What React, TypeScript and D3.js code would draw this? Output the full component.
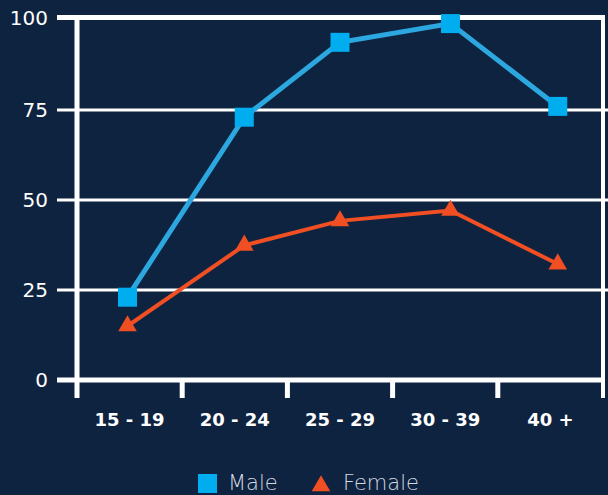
import React from 'react';
import * as d3 from 'd3';

// categories and where each point sits along the category axis (in band units)
const categories = ['15 - 19', '20 - 24', '25 - 29', '30 - 39', '40 +'];
const pointPos = [0.48, 1.59, 2.5, 3.55, 4.57];
const maleValues = [23, 73, 93.8, 99, 76];
const femaleValues = [15, 37.4, 44.2, 47.1, 32.2];
const yTicks = [0, 25, 50, 75, 100];

const W = 608;
const H = 495;
const BG = '#0e2340';
const MALE_LINE = '#2ca7df';
const MALE_MARK = '#00aeef';
const FEMALE = '#f04e23';
const FONT = "'DejaVu Sans', 'Noto Sans', sans-serif";

const App: React.FC = () => {
  const x = d3.scaleLinear().domain([0, categories.length]).range([77, 603]);
  const y = d3.scaleLinear().domain([0, 100]).range([380, 20]);

  const line = d3
    .line<number>()
    .x((d, i) => x(pointPos[i]))
    .y((d) => y(d));

  const tri = d3.symbol().type(d3.symbolTriangle).size(150)();

  const bandTicks = d3.range(categories.length + 1);

  return (
    <svg width={W} height={H} style={{ position: 'absolute', left: 0, top: 0 }}>
      <rect width={W} height={H} fill={BG} />

      {/* gridlines */}
      {yTicks
        .filter((t) => t > 0 && t < 100)
        .map((t) => (
          <line key={t} x1={57} x2={W} y1={y(t)} y2={y(t)} stroke="#fff" strokeWidth={3} />
        ))}
      <line x1={57} x2={605} y1={y(100) - 2.5} y2={y(100) - 2.5} stroke="#fff" strokeWidth={5} />
      <line x1={57} x2={605} y1={y(0)} y2={y(0)} stroke="#fff" strokeWidth={5} />

      {/* category ticks; outer ones run up as frame */}
      {bandTicks.map((t) => {
        const outer = t === 0 || t === categories.length;
        return (
          <line
            key={t}
            x1={x(t)}
            x2={x(t)}
            y1={outer ? 15 : y(0)}
            y2={398}
            stroke="#fff"
            strokeWidth={t === 0 ? 5 : outer ? 4 : 5}
          />
        );
      })}

      {/* y labels */}
      {yTicks.map((t) => (
        <text
          key={t}
          x={48}
          y={y(t) - (t === 100 ? 2 : 0)}
          dy="0.36em"
          textAnchor="end"
          fill="#fff"
          fontFamily={FONT}
          fontSize={20}
          fontWeight={500}
        >
          {t}
        </text>
      ))}

      {/* x labels */}
      {categories.map((c, i) => (
        <text
          key={c}
          x={x(i + 0.5)}
          y={426}
          textAnchor="middle"
          fill="#fff"
          fontFamily={FONT}
          fontSize={18}
          fontWeight={600}
        >
          {c}
        </text>
      ))}

      {/* series */}
      <path d={line(maleValues) || ''} fill="none" stroke={MALE_LINE} strokeWidth={5} />
      <path d={line(femaleValues) || ''} fill="none" stroke={FEMALE} strokeWidth={4} />

      {maleValues.map((v, i) => (
        <rect
          key={i}
          x={x(pointPos[i]) - 9.5}
          y={y(v) - 9.5}
          width={19}
          height={19}
          fill={MALE_MARK}
        />
      ))}
      {femaleValues.map((v, i) => (
        <path key={i} d={tri || ''} transform={`translate(${x(pointPos[i])},${y(v)})`} fill={FEMALE} />
      ))}

      {/* legend */}
      <rect x={198} y={474} width={19} height={19} fill={MALE_MARK} />
      <text x={228} y={490} fill="#d4d9e0" fontFamily={FONT} fontSize={21} fontWeight={300}>
        Male
      </text>
      <path d={tri || ''} transform="translate(321,486)" fill={FEMALE} />
      <text x={343} y={490} fill="#d4d9e0" fontFamily={FONT} fontSize={21} fontWeight={300}>
        Female
      </text>
    </svg>
  );
};

export default App;
